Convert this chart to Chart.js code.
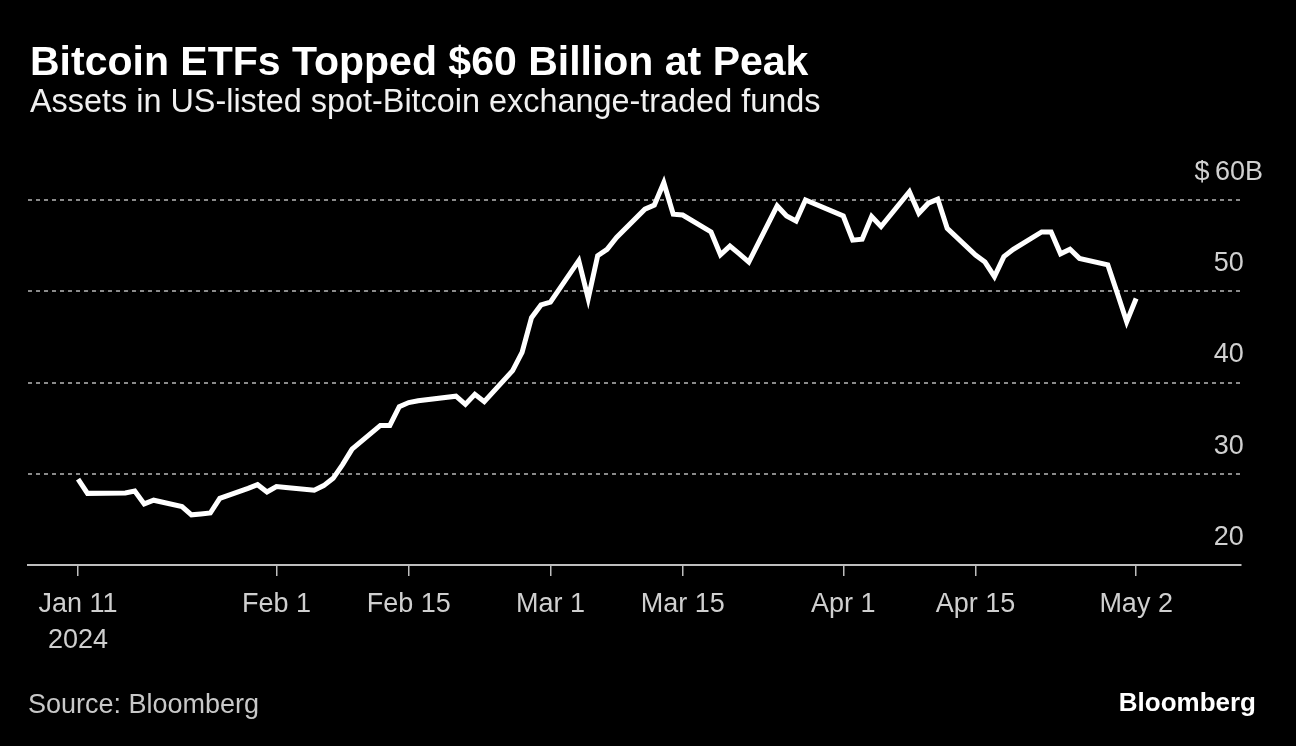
<!DOCTYPE html>
<html>
<head>
<meta charset="utf-8">
<script src="https://cdn.jsdelivr.net/npm/chart.js@4.4.1/dist/chart.umd.min.js"></script>
<style>
  html, body { margin: 0; padding: 0; background: #000; }
  body { width: 1296px; height: 746px; position: relative; overflow: hidden; font-family: "Liberation Sans", Arial, sans-serif; }
  #wrap { position: absolute; left: 0; top: 0; width: 1296px; height: 746px; }
  .txt { position: absolute; white-space: nowrap; line-height: 1; }
  #title { left: 30px; top: 41px; font-size: 41px; font-weight: bold; color: #fff; }
  #subtitle { left: 30px; top: 85px; font-size: 32.4px; color: #f0f0f0; }
  #source { left: 28px; top: 691px; font-size: 27px; color: #c8c8c8; }
  #logo { right: 40px; top: 689px; font-size: 26px; font-weight: bold; color: #fff; }
</style>
</head>
<body>
<div id="wrap"><canvas id="c" width="1296" height="746"></canvas></div>
<div class="txt" id="title">Bitcoin ETFs Topped $60 Billion at Peak</div>
<div class="txt" id="subtitle">Assets in US-listed spot-Bitcoin exchange-traded funds</div>
<div class="txt" id="source">Source: Bloomberg</div>
<div class="txt" id="logo">Bloomberg</div>
<script>
// ---- data ----
const dates = [
  "2024-01-11","2024-01-12","2024-01-16","2024-01-17","2024-01-18","2024-01-19",
  "2024-01-22","2024-01-23","2024-01-24","2024-01-25","2024-01-26",
  "2024-01-29","2024-01-30","2024-01-31","2024-02-01","2024-02-02",
  "2024-02-05","2024-02-06","2024-02-07","2024-02-08","2024-02-09",
  "2024-02-12","2024-02-13","2024-02-14","2024-02-15","2024-02-16",
  "2024-02-20","2024-02-21","2024-02-22","2024-02-23",
  "2024-02-26","2024-02-27","2024-02-28","2024-02-29","2024-03-01",
  "2024-03-04","2024-03-05","2024-03-06","2024-03-07","2024-03-08",
  "2024-03-11","2024-03-12","2024-03-13","2024-03-14","2024-03-15",
  "2024-03-18","2024-03-19","2024-03-20","2024-03-21","2024-03-22",
  "2024-03-25","2024-03-26","2024-03-27","2024-03-28",
  "2024-04-01","2024-04-02","2024-04-03","2024-04-04","2024-04-05",
  "2024-04-08","2024-04-09","2024-04-10","2024-04-11","2024-04-12",
  "2024-04-15","2024-04-16","2024-04-17","2024-04-18","2024-04-19",
  "2024-04-22","2024-04-23","2024-04-24","2024-04-25","2024-04-26",
  "2024-04-29","2024-04-30","2024-05-01","2024-05-02"
];
const assets = [
  29.4, 27.85, 27.9, 28.1, 26.7, 27.1,
  26.4, 25.5, 25.6, 25.7, 27.3,
  28.4, 28.8, 28.0, 28.6, 28.5,
  28.2, 28.7, 29.5, 31.0, 32.7,
  35.3, 35.3, 37.35, 37.8, 38.0,
  38.5, 37.6, 38.7, 37.9,
  41.3, 43.3, 47.1, 48.5, 48.8,
  53.35, 49.2, 53.9, 54.6, 55.9,
  59.0, 59.45, 61.9, 58.45, 58.35,
  56.5, 54.0, 54.95, 54.1, 53.2,
  59.35, 58.25, 57.7, 60.0,
  58.25, 55.6, 55.7, 58.2, 57.1,
  60.9, 58.55, 59.65, 60.1, 56.9,
  53.97, 53.2, 51.6, 53.8, 54.6,
  56.5, 56.5, 54.1, 54.6, 53.6,
  52.9, 49.8, 46.65, 49.2
];
const xTickDates = ["2024-01-11","2024-02-01","2024-02-15","2024-03-01","2024-03-15","2024-04-01","2024-04-15","2024-05-02"];
const xTickLabels = [["Jan 11","2024"],"Feb 1","Feb 15","Mar 1","Mar 15","Apr 1","Apr 15","May 2"];
const yTicks = [20, 30, 40, 50, 60];
const yTickLabels = ["20", "30", "40", "50", "$\u200960B"];

// ---- helpers ----
const origin = Date.UTC(2024, 0, 11);
function dayOf(s) {
  const p = s.split("-").map(Number);
  return (Date.UTC(p[0], p[1] - 1, p[2]) - origin) / 86400000;
}
const points = dates.map((d, i) => ({ x: dayOf(d), y: assets[i] }));
const xTickVals = xTickDates.map(dayOf);

const FONT = "'Liberation Sans', Arial, sans-serif";

new Chart(document.getElementById("c"), {
  type: "line",
  data: {
    datasets: [{
      data: points,
      borderColor: "#ffffff",
      borderWidth: 5,
      pointRadius: 0,
      tension: 0,
      fill: false,
      borderJoinStyle: "miter"
    }]
  },
  options: {
    responsive: false,
    devicePixelRatio: 1,
    animation: false,
    events: [],
    layout: { padding: { left: 28, right: 55, top: 163.5, bottom: 81 } },
    plugins: { legend: { display: false }, tooltip: { enabled: false }, title: { display: false } },
    scales: {
      x: {
        type: "linear",
        min: -5.3,
        max: 123.1,
        afterBuildTicks: (s) => { s.ticks = xTickVals.map(v => ({ value: v })); },
        afterFit: (s) => { s.height = 100; },
        grid: { display: true, drawOnChartArea: false, drawTicks: true, tickLength: 11, color: "#bdbdbd", lineWidth: 1.5 },
        border: { display: true, color: "#bdbdbd", width: 2 },
        ticks: {
          autoSkip: false,
          maxRotation: 0,
          minRotation: 0,
          padding: 11,
          color: "#cfcfcf",
          font: { family: FONT, size: 27, lineHeight: 1.32 },
          callback: (v) => { const i = xTickVals.indexOf(v); return i >= 0 ? xTickLabels[i] : ""; }
        }
      },
      y: {
        type: "linear",
        position: "right",
        min: 20,
        max: 64,
        afterBuildTicks: (s) => { s.ticks = yTicks.map(v => ({ value: v })); },
        afterFit: (s) => { s.width = 0; },
        grid: {
          display: true,
          drawTicks: false,
          color: (ctx) => (ctx.tick && ctx.tick.value === 20) ? "rgba(0,0,0,0)" : "#8a8a8a",
          lineWidth: 2
        },
        border: { display: false, dash: [4, 4] },
        ticks: {
          mirror: true,
          crossAlign: "center",
          padding: 22,
          labelOffset: -27.5,
          color: "#d0d0d0",
          font: { family: FONT, size: 27 },
          callback: (v) => { const i = yTicks.indexOf(v); return i >= 0 ? yTickLabels[i] : ""; }
        }
      }
    }
  }
});
</script>
</body>
</html>
